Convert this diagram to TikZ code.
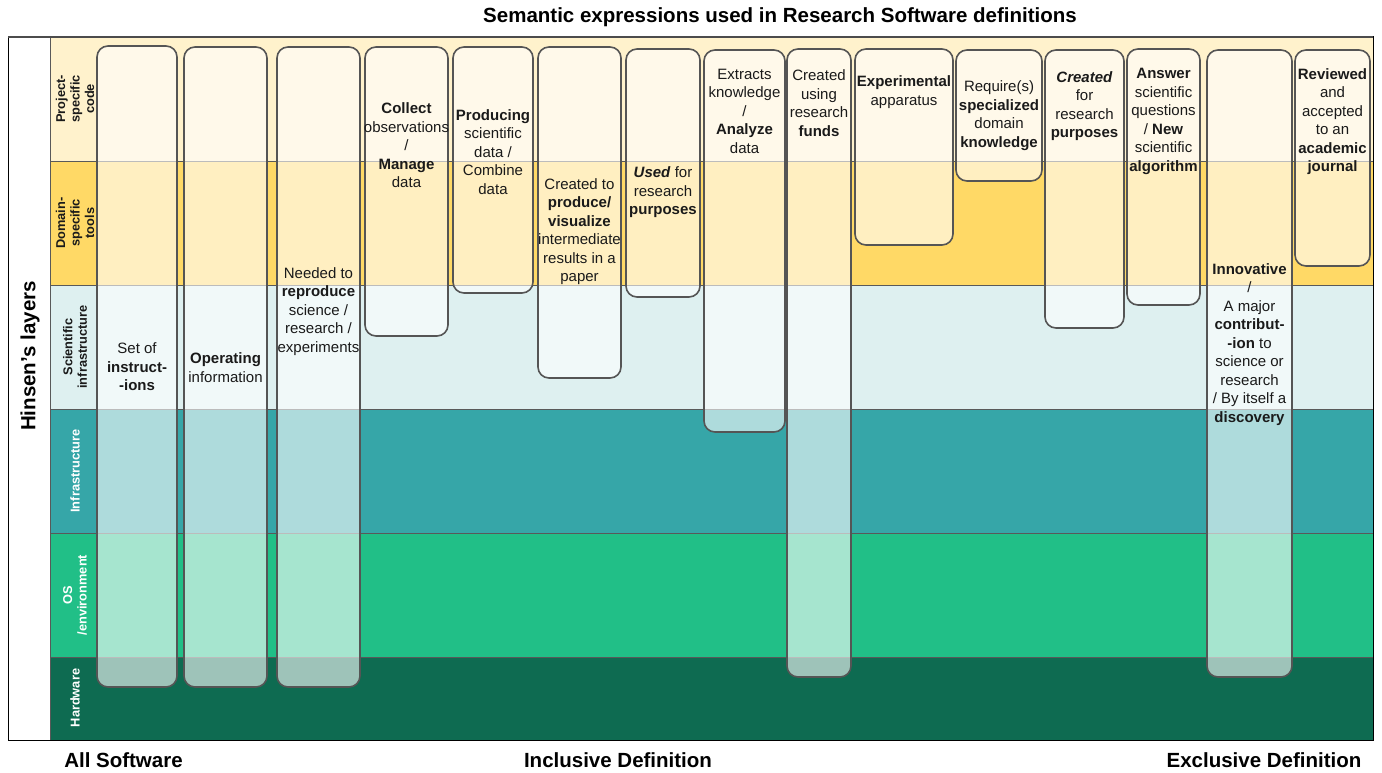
\documentclass[tikz,border=0pt]{standalone}
\usepackage{fontspec}
\setmainfont{Liberation Sans}
\definecolor{cPS}{HTML}{FFF2CC}
\definecolor{cDS}{HTML}{FFD966}
\definecolor{cSI}{HTML}{DEF0F0}
\definecolor{cIN}{HTML}{36A6A8}
\definecolor{cOS}{HTML}{21BF87}
\definecolor{cHW}{HTML}{0E6B51}
\definecolor{cBorder}{HTML}{555555}
\definecolor{cText}{HTML}{1A1A1A}
\tikzset{
  band/.style={draw=gray!70!black, line width=0.7pt},
  colbox/.style={draw=cBorder, line width=1.6pt, rounded corners=11pt, fill=white, fill opacity=0.6},
  coltext/.style={font=\fontsize{15}{18.5}\selectfont, align=center, inner sep=0pt, text=cText},
  lbl/.style={font=\fontsize{12.8}{14.5}\selectfont\bfseries, align=center, inner sep=0pt, rotate=90},
  big/.style={font=\fontsize{20.5}{24}\selectfont\bfseries, inner sep=0pt, text=black}
}
\begin{document}
\begin{tikzpicture}[x=1pt,y=-1pt]
\useasboundingbox (0,0) rectangle (1382,773);
\fill[white] (0,0) rectangle (1382,773);
% bands
\draw[band, fill=cPS] (50,37) rectangle (1373,161);
\draw[band, fill=cDS] (50,161) rectangle (1373,285);
\draw[band, fill=cSI] (50,285) rectangle (1373,409);
\draw[band, fill=cIN] (50,409) rectangle (1373,533);
\draw[band, fill=cOS] (50,533) rectangle (1373,657);
\draw[band, fill=cHW] (50,657) rectangle (1373,740);
% frame
\draw[black, line width=1pt] (8,37) rectangle (1373,740);
\draw[gray!60!black, line width=1.6pt] (8,37) -- (1373,37);
% layer labels
\node[lbl, text=cText] (lPS) at (75,99) {Project-\\specific\\code};
\node[lbl, text=cText] (lDS) at (75,223) {Domain-\\specific\\tools};
\node[lbl, text=cText] (lSI) at (75,347) {Scientific\\infrastructure};
\node[lbl, text=white] (lIN) at (75,471) {Infrastructure};
\node[lbl, text=white] (lOS) at (75,595) {OS\\/environment};
\node[lbl, text=white] (lHW) at (75,698) {Hardware};
\node[big, rotate=90] (hinsen) at (30,356) {Hinsen's layers};
% columns
\draw[colbox] (97,46) rectangle (177,687);
\draw[colbox] (184,47) rectangle (267,687);
\draw[colbox] (277,47) rectangle (360,687);
\draw[colbox] (365,47) rectangle (448,336);
\draw[colbox] (453,47) rectangle (533,293);
\draw[colbox] (538,47) rectangle (621,378);
\draw[colbox] (626,49) rectangle (700,297);
\draw[colbox] (704,50) rectangle (785,432);
\draw[colbox] (787,49) rectangle (851,677);
\draw[colbox] (855,49) rectangle (953,245);
\draw[colbox] (956,50) rectangle (1042,181);
\draw[colbox] (1045,50) rectangle (1124,328);
\draw[colbox] (1127,49) rectangle (1200,305);
\draw[colbox] (1207,50) rectangle (1292,677);
\draw[colbox] (1295,50) rectangle (1370,266);
% column texts
\node[coltext] (t1) at (137,367) {Set of\\\textbf{instruct-}\\\textbf{-ions}};
\node[coltext] (t2) at (225.5,367.5) {\textbf{Operating}\\information};
\node[coltext] (t3) at (318.5,311.5) {Needed to\\\textbf{reproduce}\\science /\\research /\\experiments};
\node[coltext] (t4) at (406.5,145.5) {\textbf{Collect}\\observations\\/\\\textbf{Manage}\\data};
\node[coltext] (t5) at (493,152) {\textbf{Producing}\\scientific\\data /\\Combine\\data};
\node[coltext] (t6) at (579.5,231.5) {Created to\\\textbf{produce/}\\\textbf{visualize}\\intermediate\\results in a\\paper};
\node[coltext] (t7) at (663,192.5) {\textbf{\textit{Used}} for\\research\\\textbf{purposes}};
\node[coltext] (t8) at (744.5,111) {Extracts\\knowledge\\/\\\textbf{Analyze}\\data};
\node[coltext] (t9) at (819,103) {Created\\using\\research\\\textbf{funds}};
\node[coltext] (t10) at (904,92) {\textbf{Experimental}\\apparatus};
\node[coltext] (t11) at (999,115.5) {Require(s)\\\textbf{specialized}\\domain\\\textbf{knowledge}};
\node[coltext] (t12) at (1084.5,106) {\textbf{\textit{Created}}\\for\\research\\\textbf{purposes}};
\node[coltext] (t13) at (1163.5,121.5) {\textbf{Answer}\\scientific\\questions\\/ \textbf{New}\\scientific\\\textbf{algorithm}};
\node[coltext] (t14) at (1249.5,344.5) {\textbf{Innovative}\\/\\A major\\\textbf{contribut-}\\\textbf{-ion} to\\science or\\research\\/ By itself a\\\textbf{discovery}};
\node[coltext] (t15) at (1332.5,121.5) {\textbf{Reviewed}\\and\\accepted\\to an\\\textbf{academic}\\\textbf{journal}};
% title and bottom labels
\node[big] (title) at (780,17) {Semantic expressions used in Research Software definitions};
\node[big] (allsw) at (123.5,760) {All Software};
\node[big] (incl) at (618,760) {Inclusive Definition};
\node[big] (excl) at (1264,760) {Exclusive Definition};
\end{tikzpicture}
\end{document}
